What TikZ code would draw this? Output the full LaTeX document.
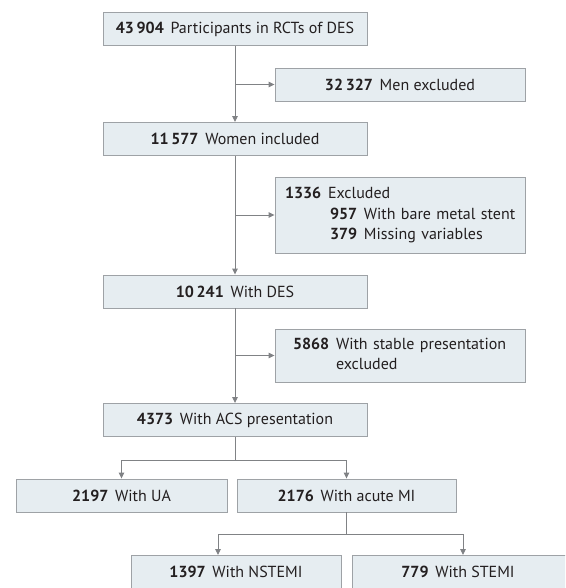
\documentclass[tikz,border=0pt]{standalone}
\usepackage{fontspec}
\setmainfont{PT Sans}
\usetikzlibrary{arrows.meta}
\definecolor{boxfill}{RGB}{230,237,241}
\definecolor{boxline}{RGB}{158,162,166}
\definecolor{conn}{RGB}{128,130,133}
\definecolor{txt}{RGB}{35,31,32}
\newcommand{\numlbl}[1]{\textbf{#1}\hspace{0.42em}}
\begin{document}
\begin{tikzpicture}[x=1pt,y=-1pt,
  every node/.style={font=\fontsize{16}{21}\selectfont, text=txt},
  flowbox/.style={draw=boxline, fill=boxfill, line width=0.9pt, rectangle, inner sep=0pt, minimum height=#1},
  flowbox/.default=33pt,
  arr/.style={draw=conn, line width=0.9pt, -{Triangle[width=5.5pt,length=6pt]}},
  ln/.style={draw=conn, line width=0.9pt}]
\useasboundingbox (0,0) rectangle (565,588);
\clip (0,0) rectangle (565,588);
% main column
\node[flowbox, minimum width=264pt] (b1) at (235,29) {\numlbl{43\,904}Participants in RCTs of DES};
\node[flowbox, minimum width=250pt] (men) at (400,84.5) {\numlbl{32\,327}Men excluded};
\node[flowbox, minimum width=264pt] (women) at (235,139) {\numlbl{11\,577}Women included};
\node[flowbox=76pt, minimum width=250pt, text width=230pt, align=left] (excl) at (400,215)
  {\begin{tabular}{@{}l@{}}\numlbl{1336}Excluded\\[-0.5pt]
   \hspace*{45pt}\numlbl{957}With bare metal stent\\[-0.5pt]
   \hspace*{45pt}\numlbl{379}Missing variables\end{tabular}};
\node[flowbox, minimum width=264pt] (des) at (235,291.5) {\numlbl{10\,241}With DES};
\node[flowbox=53pt, minimum width=250pt, text width=214pt, align=left] (stable) at (400,355.5)
  {\begin{tabular}{@{}l@{\hspace{0.42em}}l@{}}\textbf{5868}&With stable presentation\\[-1pt] &excluded\end{tabular}};
\node[flowbox, minimum width=264pt] (acs) at (235,420) {\numlbl{4373}With ACS presentation};
\node[flowbox, minimum width=211pt] (ua) at (121.5,495.5) {\numlbl{2197}With UA};
\node[flowbox, minimum width=219pt] (mi) at (346.5,495.5) {\numlbl{2176}With acute MI};
\node[flowbox=40pt, minimum width=210pt, anchor=north] (nstemi) at (236,555) {};
\node[anchor=base] (nstemit) at (236,577) {\numlbl{1397}With NSTEMI};
\node[flowbox=40pt, minimum width=240pt, anchor=north west] (stemi) at (352,555) {};
\node[anchor=base] (stemit) at (458,577) {\numlbl{779}With STEMI};
% connector junctions
\coordinate (j1) at (b1.south |- men.west);
\coordinate (j2) at (women.south |- excl.west);
\coordinate (j3) at (des.south |- stable.west);
\coordinate (s1) at (acs.south |- 0,460);
\coordinate (s1l) at (ua.north |- s1);
\coordinate (s1r) at (mi.north |- s1);
\coordinate (s2) at (mi.south |- 0,534);
\coordinate (s2l) at (218,534);
\coordinate (s2r) at (463,534);
\coordinate (n2) at (218,555);
\coordinate (n3) at (463,555);
% connectors
\draw[arr] (b1.south) -- (women.north);
\draw[arr] (j1) -- (men.west);
\draw[arr] (women.south) -- (des.north);
\draw[arr] (j2) -- (excl.west);
\draw[arr] (des.south) -- (acs.north);
\draw[arr] (j3) -- (stable.west);
\draw[ln] (acs.south) -- (s1);
\draw[arr] (s1) -- (s1l) -- (ua.north);
\draw[arr] (s1) -- (s1r) -- (mi.north);
\draw[ln] (mi.south) -- (s2);
\draw[arr] (s2) -- (s2l) -- (n2);
\draw[arr] (s2) -- (s2r) -- (n3);
\end{tikzpicture}
\end{document}
